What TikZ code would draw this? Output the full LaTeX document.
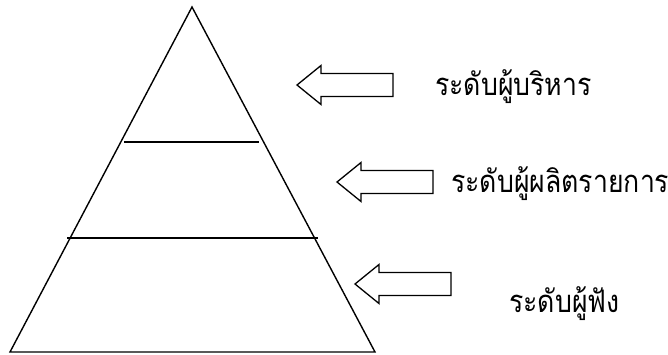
\documentclass[tikz,border=0pt]{standalone}
\usepackage{fontspec}
\newfontfamily\thaifont[Script=Thai,FakeStretch=0.86]{Loma}
\begin{document}
\begin{tikzpicture}[x=1pt,y=-1pt,
  edge/.style={line width=1.4pt, line join=miter},
  arrowline/.style={line width=1.3pt, line join=miter, fill=white},
  lbl/.style={anchor=base west, inner sep=0pt, font=\thaifont\fontsize{31}{36}\selectfont},
  blockarrow/.pic={\draw[arrowline] (0,0) -- (24,-19.5) -- (24,-11.5) -- (96,-11.5) -- (96,11.5) -- (24,11.5) -- (24,19.5) -- cycle;}]
\useasboundingbox (0,0) rectangle (668,354);
\coordinate (apex) at (192,7);
\coordinate (bl) at (10,352);
\coordinate (br) at (375,352);
\coordinate (u1) at (124,142);
\coordinate (u2) at (259,142);
\coordinate (l1) at (67,238);
\coordinate (l2) at (318,238);
\draw[edge] (apex) -- (br) -- (bl) -- cycle;
\draw[edge] (u1) -- (u2);
\draw[edge] (l1) -- (l2);
\pic at (297,85) {blockarrow};
\pic at (337,182) {blockarrow};
\pic at (355,284) {blockarrow};
\node[lbl] (t1) at (435,95) {ระดับผู้บริหาร};
\node[lbl] (t2) at (451,192) {ระดับผู้ผลิตรายการ};
\node[lbl] (t3) at (509,312) {ระดับผู้ฟัง};
\end{tikzpicture}
\end{document}
